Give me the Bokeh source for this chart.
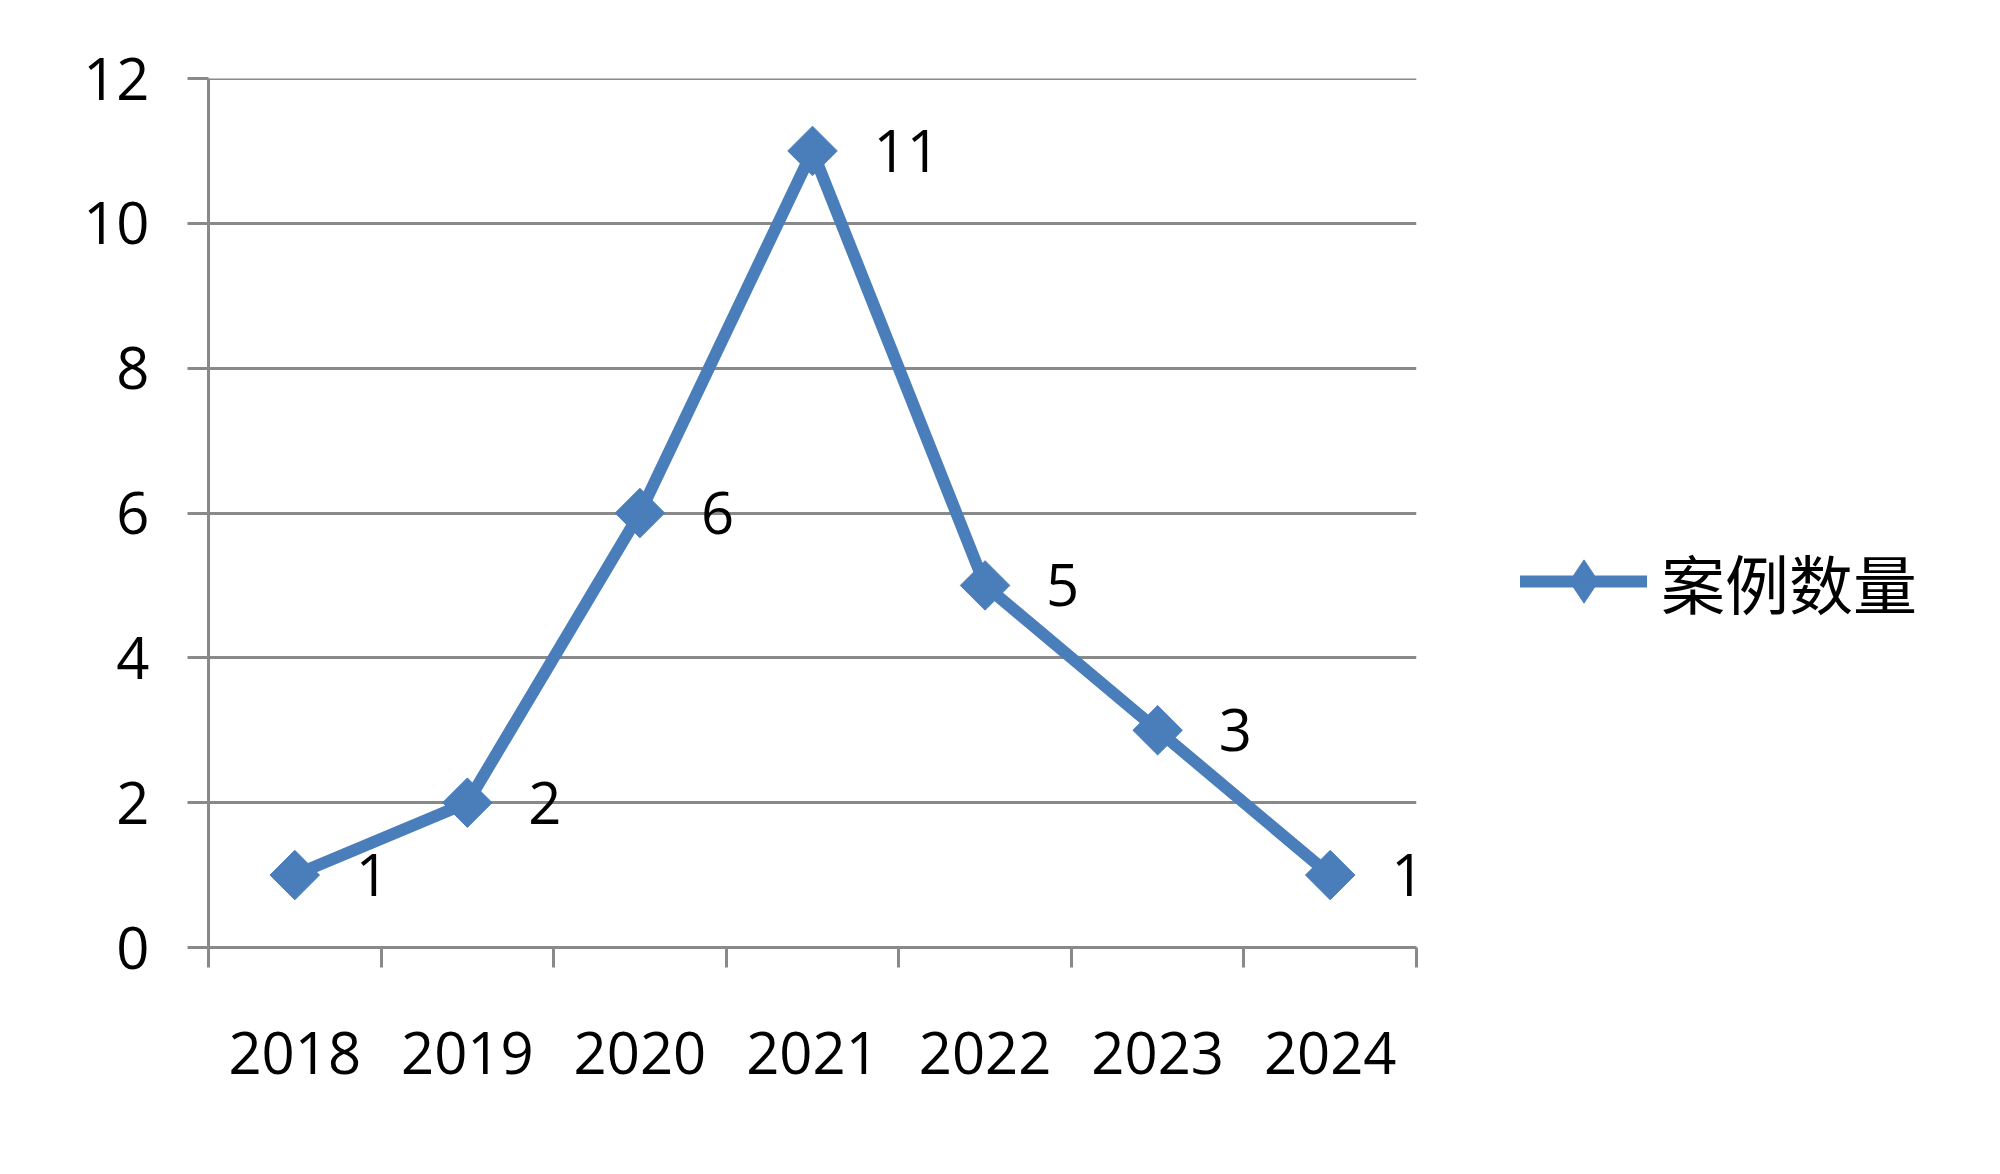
import numpy as np
from bokeh.plotting import figure
from bokeh.models import (Range1d, FixedTicker, Legend, LegendItem, ColumnDataSource,
                          LabelSet, Span)
from bokeh.core.properties import value
from bokeh.embed import file_html
from bokeh.resources import INLINE

years = ["2018", "2019", "2020", "2021", "2022", "2023", "2024"]
counts = [1, 2, 6, 11, 5, 3, 1]
series_name = "案例数量"
y_ticks = [0, 2, 4, 6, 8, 10, 12]

BLUE = "#4A7EBB"
GRAY = "#898989"
FONT = "Open Sans"
CJK = "Noto Sans CJK SC"

# category slots: each year occupies one unit, centred at i + 0.5
xpos = [i + 0.5 for i in range(len(years))]
bounds = list(range(len(years) + 1))

p = figure(x_range=Range1d(0, len(years)), y_range=Range1d(y_ticks[0], y_ticks[-1]),
           frame_width=1208, frame_height=869,
           min_border_left=208, min_border_right=576, min_border_top=78, min_border_bottom=219,
           output_backend="svg", toolbar_location=None,
           background_fill_color="white", border_fill_color="white")
p.outline_line_color = None
p.xgrid.visible = False
p.ygrid.ticker = FixedTicker(ticks=y_ticks)
p.ygrid.grid_line_color = GRAY
p.ygrid.grid_line_width = 3
p.add_layout(Span(location=y_ticks[-1], dimension="width", line_color=GRAY, line_width=3))

# y axis
ya = p.yaxis[0]
ya.ticker = FixedTicker(ticks=y_ticks)
ya.axis_line_color = GRAY
ya.axis_line_width = 3
ya.major_tick_line_color = GRAY
ya.major_tick_line_width = 3
ya.major_tick_out = 21
ya.major_tick_in = 0
ya.minor_tick_line_color = None
ya.major_label_text_font = FONT
ya.major_label_text_font_size = "58px"
ya.major_label_text_color = "black"
ya.major_label_standoff = 38

# x axis: labels at slot centres, ticks (minor) at slot boundaries
xa = p.xaxis[0]
xa.ticker = FixedTicker(ticks=xpos, minor_ticks=bounds)
xa.major_label_overrides = {x: y for x, y in zip(xpos, years)}
xa.axis_line_color = GRAY
xa.axis_line_width = 3
xa.major_tick_line_color = None
xa.major_tick_out = 0
xa.major_tick_in = 0
xa.minor_tick_line_color = GRAY
xa.minor_tick_line_width = 3
xa.minor_tick_out = 20
xa.minor_tick_in = 0
xa.major_label_text_font = FONT
xa.major_label_text_font_size = "58px"
xa.major_label_text_color = "black"
xa.major_label_standoff = 64

src = ColumnDataSource(dict(x=xpos, y=counts, label=[str(c) for c in counts]))
line_r = p.line(x="x", y="y", source=src, line_width=12, line_color=BLUE, line_join="round")
scat_r = p.scatter(x="x", y="y", source=src, marker="square", size=35, angle=np.pi / 4,
                   fill_color=BLUE, line_color=BLUE)
# legend-only marker (Excel shows an upright diamond in the key)
key_r = p.scatter(x="x", y="y", source=src, marker="diamond", size=43,
                  fill_color=BLUE, line_color=BLUE, visible=False)

labels = LabelSet(x="x", y="y", text="label", source=src, x_offset=61, y_offset=0,
                  text_align="left", text_baseline="middle", text_font=value(FONT),
                  text_font_size="58px", text_color="black")
p.add_layout(labels)

legend = Legend(items=[LegendItem(label=series_name, renderers=[line_r, key_r])],
                location=(104, 312), glyph_width=127, glyph_height=108, label_standoff=14,
                label_text_font=CJK, label_text_font_size="64px", label_text_color="black",
                border_line_color=None, background_fill_alpha=0, padding=0, margin=0)
p.add_layout(legend, "right")
line_r.glyph.line_cap = "round"

open("out.html", "w").write(file_html(p, INLINE))
